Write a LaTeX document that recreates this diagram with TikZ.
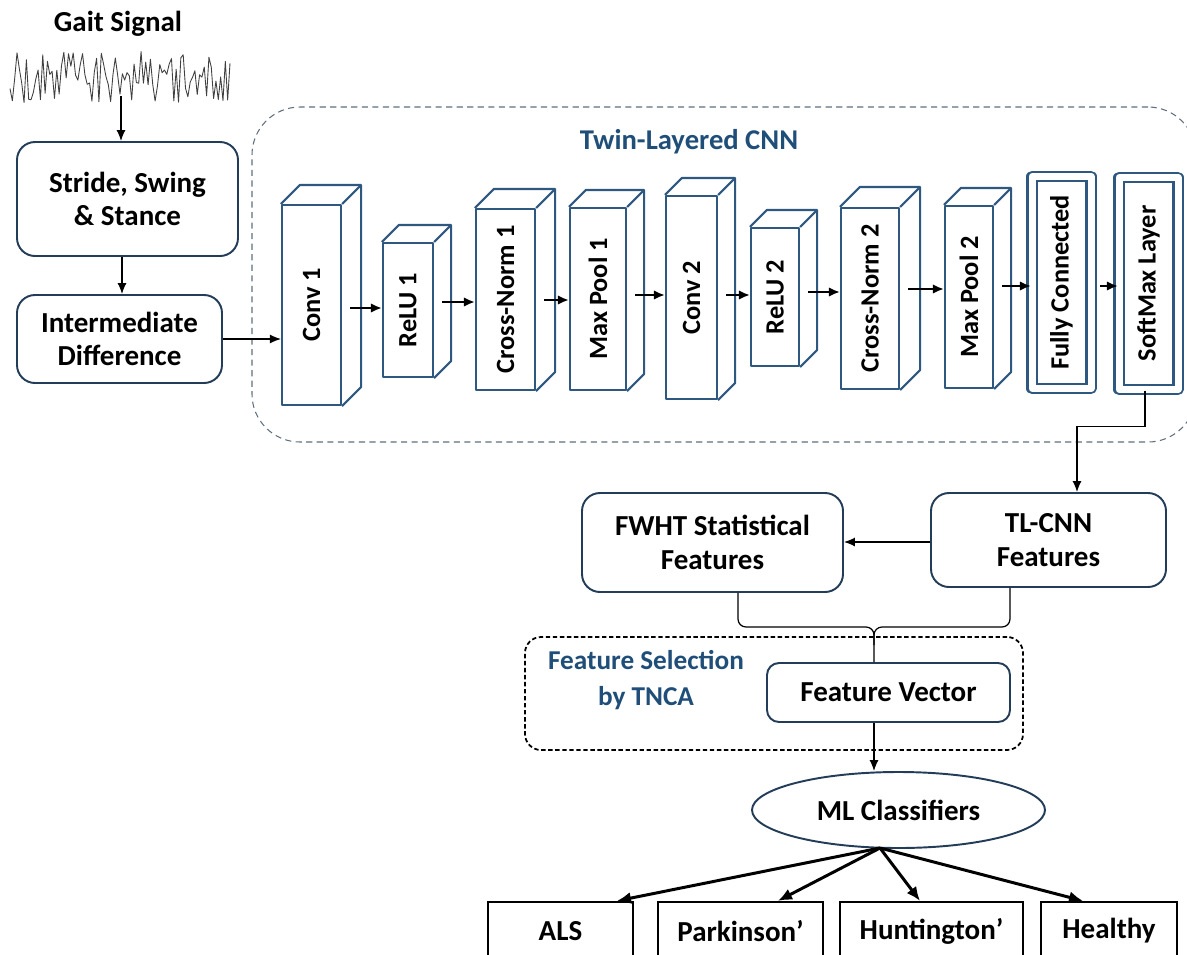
\documentclass[tikz,border=0pt]{standalone}
\usepackage{fontspec}
\setmainfont{Carlito}
\usepackage{graphicx}
\usetikzlibrary{calc,positioning,arrows.meta,shapes.geometric}

\definecolor{boxline}{RGB}{35,60,88}
\definecolor{layerline}{RGB}{46,88,128}
\definecolor{titleblue}{RGB}{31,78,121}
\definecolor{cnnline}{RGB}{95,110,125}

\newcommand\px{0.02cm}

\tikzset{
  blk/.style={draw=boxline, line width=1.1pt, rounded corners=18*\px, align=center,
    inner sep=0pt, font=\fontsize{16.5}{19}\selectfont\bfseries},
  layer/.style={draw=layerline, line width=1.2pt, fill=white, inner sep=0pt,
    line join=round, font=\fontsize{15}{17}\selectfont\bfseries},
  depth/.style={draw=layerline, line width=1.2pt, line join=round},
  outbox/.style={draw=black, line width=1.3pt, inner sep=0pt,
    font=\fontsize{16.5}{19}\selectfont\bfseries},
  conn/.style={line width=0.7pt, -{Latex[length=2.2mm,width=1.8mm]}},
  flow/.style={line width=1.3pt, -{Latex[length=2.2mm,width=1.9mm]}},
  fan/.style={line width=1.7pt, -{Latex[length=2.8mm,width=2.4mm]}},
  grouptitle/.style={text=titleblue, align=center, font=\fontsize{15.5}{20}\selectfont\bfseries}
}

\begin{document}
\begin{tikzpicture}[x=0.02cm,y=-0.02cm]

  \useasboundingbox (0,0) rectangle (1187,954);

  % dashed frame of the network
  \node [draw=cnnline, dashed, dash pattern=on 3.5pt off 2.5pt, line width=0.6pt, rounded corners=48*\px,
    minimum width=944*\px, minimum height=335*\px] at (724,274.5) (cnn) {};
  \node [grouptitle, font=\fontsize{16.3}{19}\selectfont\bfseries] at (689,142) (cnn_title) {Twin-Layered CNN};

  % input side
  \node [font=\fontsize{16.5}{19}\selectfont\bfseries] at (118,24) (gait) {Gait Signal};
  \pgfmathsetseed{12}
  \draw [line width=0.5pt, black!75, line join=round] plot [domain=10:230, samples=95] (\x, {77+26*rand});
  \coordinate (sigfoot) at (121,96);

  \node [blk, minimum width=221*\px, minimum height=114*\px] at (127.5,199) (stride) {Stride, Swing\\\& Stance};
  \node [blk, minimum width=205*\px, minimum height=88*\px] at (119.5,339) (inter) {Intermediate\\Difference};

  \draw [conn] (sigfoot) -- (sigfoot |- stride.north);
  \draw [conn] (stride.south -| 122,0) -- (inter.north -| 122,0);

  % layers
  \foreach \nm/\cx/\cy/\w/\h/\d/\txt in {
    conv1/311.5/305/59/200/19/Conv 1,
    relu1/408/310/50/134/17/ReLU 1,
    cn1/505.5/299.5/59/181/19/Cross-Norm 1,
    mp1/598/299/56/182/17/Max Pool 1,
    conv2/691.5/297.5/51/203/17/Conv 2,
    relu2/775/297/48/138/17/ReLU 2,
    cn2/870/298.5/58/181/20/Cross-Norm 2,
    mp2/969/297/48/182/17/Max Pool 2}
  {
    \node [layer, minimum width=\w*\px, minimum height=\h*\px] at (\cx,\cy) (\nm) {\rotatebox{90}{\txt}};
    \draw [depth] (\nm.north west) -- ($(\nm.north west)+(\d,-\d)$) -- ($(\nm.north east)+(\d,-\d)$)
      -- ($(\nm.south east)+(\d,-\d)$) -- (\nm.south east);
    \draw [depth] (\nm.north east) -- ($(\nm.north east)+(\d,-\d)$);
  }

  \node [layer, double=white, double distance=7*\px, minimum width=59*\px, minimum height=212*\px]
    at (1061.5,282.5) (fc) {\rotatebox{90}{Fully Connected}};
  \node [layer, double=white, double distance=7*\px, minimum width=59*\px, minimum height=212*\px]
    at (1148.5,283.5) (sm) {\rotatebox{90}{SoftMax Layer}};

  \draw [conn] (inter.east) -- (inter.east -| conv1.west);

  \foreach \a/\b/\y in {conv1/relu1/308, relu1/cn1/302, cn1/mp1/300, mp1/conv2/295,
    conv2/relu2/295, relu2/cn2/292, cn2/mp2/289, mp2/fc/286, fc/sm/286}
    \draw [flow] ($(\a.east |- 0,\y)+(8,0)$) -- (\b.west |- 0,\y);

  % features
  \node [blk, minimum width=261*\px, minimum height=99*\px] at (712.5,542.5) (fwht) {FWHT Statistical\\Features};
  \node [blk, minimum width=235*\px, minimum height=94*\px] at (1048.5,540) (tlcnn) {TL-CNN\\Features};

  \draw [conn] (sm.south -| 1145,0) -- ++(0,36) -| (tlcnn.north -| 1077,0);
  \draw [conn] (tlcnn.west |- 0,542) -- (fwht.east |- 0,542);

  \node [draw=black, dash pattern=on 2.5pt off 1.5pt, line width=1pt, rounded corners=16*\px,
    minimum width=498*\px, minimum height=113*\px] at (774,693.5) (fsel) {};
  \node [grouptitle] at (646,680) (fsel_title) {Feature Selection\\by TNCA};
  \node [blk, rounded corners=12*\px, minimum width=243*\px, minimum height=59*\px] at (888.5,692.5) (fv) {Feature Vector};

  \coordinate (join) at (874,627);
  \draw [line width=0.7pt, rounded corners=8*\px] (fwht.south -| 738,0) |- (join) -- (join |- fv.north);
  \draw [line width=0.7pt, rounded corners=8*\px] (tlcnn.south -| 1010,0) |- (join) -- ($(join)+(0,18)$);

  % classification
  \node [draw=boxline, line width=1.1pt, ellipse, minimum width=293*\px, minimum height=76*\px, inner sep=0pt,
    font=\fontsize{16.5}{19}\selectfont\bfseries] at (898.5,810) (ml) {ML Classifiers};
  \draw [conn] (fv.south -| 874,0) -- (ml.north -| 874,0);

  \foreach \nm/\cx/\w/\txt in {als/560.5/145/ALS, park/740.5/165/Parkinson', hunt/931.5/183/Huntington', heal/1109/136/Healthy}
    \node [outbox, minimum width=\w*\px, minimum height=58*\px] at (\cx,931) (\nm) {\txt};

  \coordinate (split) at (880,848);
  \foreach \b/\x in {als/617, park/778, hunt/920, heal/1083}
    \draw [fan] (split) -- (\b.north -| \x,0);

\end{tikzpicture}
\end{document}
